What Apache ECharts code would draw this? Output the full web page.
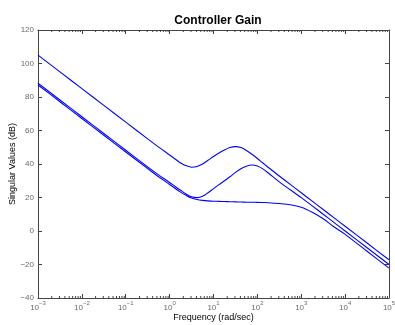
<!DOCTYPE html>
<html>
<head>
<meta charset="utf-8">
<script src="https://cdn.jsdelivr.net/npm/echarts@6/dist/echarts.min.js"></script>
<style>
html,body{margin:0;padding:0;background:#fff;}
#c{width:395px;height:325px;}
</style>
</head>
<body>
<div id="c"></div>
<script>
// log10 of frequency (rad/sec) at which the curves were read
const exps = [-3,-2.5,-2,-1.5,-1,-0.5,-0.25,0,0.125,0.25,0.375,0.5,0.625,0.75,0.875,1,1.125,1.25,1.375,1.5,1.625,1.75,1.875,2,2.125,2.25,2.5,2.75,3,3.25,3.5,3.75,4,4.5,5];
// singular values (dB)
const sv1 = [105,95,85,75,65,55,50.1,45.4,43.0,40.6,39.0,38.1,38.5,40.0,42.2,44.5,46.6,48.4,49.8,50.4,49.8,48.1,45.8,43.3,40.6,37.9,32.8,27.8,22.8,17.8,12.8,7.8,2.8,-7.2,-17.2];
const sv2 = [88.2,78.2,68.2,58.2,48.2,38.3,33.5,29.0,26.6,24.3,22.1,20.4,19.9,20.7,22.8,25.3,27.7,30.0,32.4,35.0,37.2,38.7,39.4,38.8,37.1,34.6,29.3,24.6,19.9,15.0,10.0,5.0,0.0,-10.0,-20.0];
const sv3 = [87.2,77.2,67.2,57.2,47.2,37.3,32.4,27.8,25.4,23.2,21.3,19.7,18.8,18.3,18.0,17.8,17.7,17.6,17.5,17.4,17.3,17.2,17.15,17.1,17.0,16.9,16.4,15.7,14.2,11.2,7.3,2.4,-2.0,-12.1,-22.2];

const freq = exps.map(e => Math.pow(10, e));
const pairs = arr => arr.map((v, i) => [freq[i], v]);

const minor = [];
for (let d = -3; d < 5; d++) for (let k = 2; k <= 9; k++) minor.push([k * Math.pow(10, d), -40]);

const FONT = 'Liberation Sans, Arial, Helvetica, sans-serif';
const AX = '#444';
const LBL = '#6a6a6a';

const chart = echarts.init(document.getElementById('c'), null, {renderer: 'canvas'});
const lineStyle = {color: '#0000ff', width: 1.1};
const mk = d => ({type: 'line', data: pairs(d), showSymbol: false, smooth: 0.3, lineStyle, silent: true, animation: false, z: 3});

chart.setOption({
  backgroundColor: '#fff',
  animation: false,
  title: {
    text: 'Controller Gain', left: 213, top: 10, textAlign: 'center',
    textStyle: {fontFamily: FONT, fontSize: 12, fontWeight: 'bold', color: '#000'}
  },
  grid: {left: 38, right: 6, top: 30, bottom: 27, containLabel: false, outerBoundsMode: 'none'},
  xAxis: [{
    type: 'log', logBase: 10, min: 0.001, max: 100000, interval: 1,
    name: 'Frequency (rad/sec)', nameLocation: 'middle', nameGap: 15, nameMoveOverlap: false,
    nameTextStyle: {fontFamily: FONT, fontSize: 9, color: '#000'},
    axisLine: {show: true, onZero: false, lineStyle: {color: AX, width: 1}},
    axisTick: {show: true, inside: true, length: 4, lineStyle: {color: AX}},
    splitLine: {show: false},
    axisLabel: {
      margin: 2,
      formatter: v => '{b|10}{e|' + String(Math.round(Math.log10(v))).replace('-', '\u2212') + '}',
      rich: {
        b: {fontFamily: FONT, fontSize: 8, color: LBL, verticalAlign: 'bottom', padding: [4, 0, 0, 0]},
        e: {fontFamily: FONT, fontSize: 6, color: LBL, verticalAlign: 'top', padding: [0, 0, 5, 0]}
      }
    }
  }, {
    type: 'log', logBase: 10, min: 0.001, max: 100000, interval: 1, position: 'top',
    axisLine: {show: true, onZero: false, lineStyle: {color: AX, width: 1}},
    axisTick: {show: true, inside: true, length: 4, lineStyle: {color: AX}},
    axisLabel: {show: false}, splitLine: {show: false}
  }],
  yAxis: [{
    type: 'value', min: -40, max: 120, interval: 20,
    name: 'Singular Values (dB)', nameLocation: 'middle', nameGap: 21, nameMoveOverlap: false,
    nameTextStyle: {fontFamily: FONT, fontSize: 9, color: '#000'},
    axisLine: {show: true, onZero: false, lineStyle: {color: AX, width: 1}},
    axisTick: {show: true, inside: true, length: 4, lineStyle: {color: AX}},
    splitLine: {show: false},
    axisLabel: {
      margin: 4, fontFamily: FONT, fontSize: 8, color: LBL,
      formatter: v => String(v).replace('-', '\u2212')
    }
  }, {
    type: 'value', min: -40, max: 120, interval: 20, position: 'right',
    axisLine: {show: true, onZero: false, lineStyle: {color: AX, width: 1}},
    axisTick: {show: true, inside: true, length: 4, lineStyle: {color: AX}},
    axisLabel: {show: false}, splitLine: {show: false}
  }],
  series: [
    mk(sv1), mk(sv2), mk(sv3),
    {
      type: 'custom', data: minor, silent: true, clip: false, z: 4,
      renderItem: (params, api) => {
        const b = api.coord([api.value(0), -40]);
        const t = api.coord([api.value(0), 120]);
        const st = {stroke: AX, lineWidth: 1};
        return {type: 'group', children: [
          {type: 'line', shape: {x1: b[0] + 0.5, y1: b[1], x2: b[0] + 0.5, y2: b[1] - 2}, style: st},
          {type: 'line', shape: {x1: t[0] + 0.5, y1: t[1], x2: t[0] + 0.5, y2: t[1] + 2}, style: st}
        ]};
      }
    }
  ]
});
</script>
</body>
</html>
